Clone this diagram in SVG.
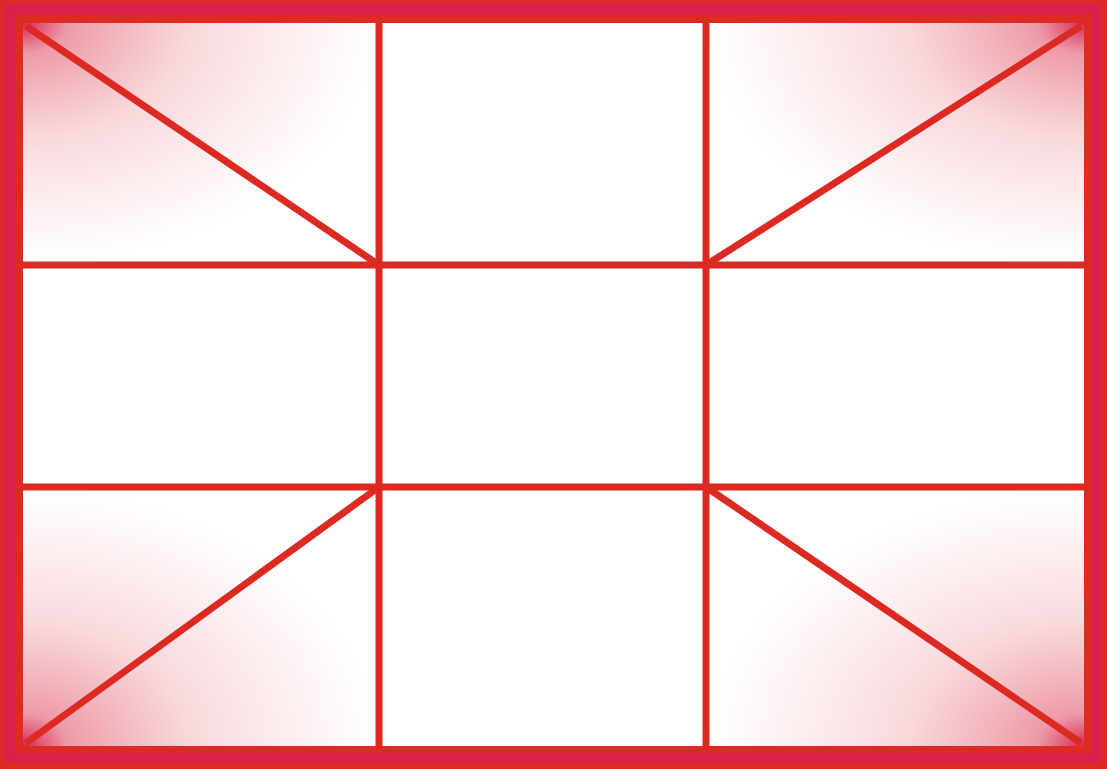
<svg xmlns="http://www.w3.org/2000/svg" width="1107" height="769" viewBox="0 0 1107 769">
<style>
.ln{stroke:#dc2a22;stroke-width:7;stroke-linecap:butt;fill:none}
.s0{stop-color:#d41c4a;stop-opacity:0.95}
.s1{stop-color:#dc3552;stop-opacity:0.5}
.s2{stop-color:#e2505e;stop-opacity:0.22}
.s3{stop-color:#e86a74;stop-opacity:0}
</style>
<defs>
<radialGradient id="gTL" cx="0" cy="0" r="1.05">
<stop offset="0" class="s0"/><stop offset="0.12" class="s1"/><stop offset="0.45" class="s2"/><stop offset="0.95" class="s3"/>
</radialGradient>
<radialGradient id="gTR" cx="1" cy="0" r="1.05">
<stop offset="0" class="s0"/><stop offset="0.12" class="s1"/><stop offset="0.45" class="s2"/><stop offset="0.95" class="s3"/>
</radialGradient>
<radialGradient id="gBL" cx="0" cy="1" r="1.05">
<stop offset="0" class="s0"/><stop offset="0.12" class="s1"/><stop offset="0.45" class="s2"/><stop offset="0.95" class="s3"/>
</radialGradient>
<radialGradient id="gBR" cx="1" cy="1" r="1.05">
<stop offset="0" class="s0"/><stop offset="0.12" class="s1"/><stop offset="0.45" class="s2"/><stop offset="0.95" class="s3"/>
</radialGradient>
</defs>
<g id="frame">
<rect x="0" y="0" width="1107" height="769" fill="#dd2a22"/>
<rect x="4" y="4" width="1097" height="759" fill="#d9214a"/>
<rect x="15" y="15" width="1076" height="738" fill="#dd2a22"/>
<rect x="23" y="23" width="1061" height="723" fill="#ffffff"/>
</g>
<g id="corner-shading">
<rect x="23" y="23" width="356" height="242" fill="url(#gTL)"/>
<rect x="706" y="23" width="378" height="242" fill="url(#gTR)"/>
<rect x="23" y="487" width="356" height="259" fill="url(#gBL)"/>
<rect x="706" y="487" width="378" height="259" fill="url(#gBR)"/>
</g>
<g id="grid">
<line class="ln" x1="379" y1="20" x2="379" y2="749"/>
<line class="ln" x1="706" y1="20" x2="706" y2="749"/>
<line class="ln" x1="20" y1="265" x2="1087" y2="265"/>
<line class="ln" x1="20" y1="487" x2="1087" y2="487"/>
</g>
<g id="diagonals">
<line class="ln" x1="26" y1="26" x2="379" y2="265"/>
<line class="ln" x1="1081" y1="26" x2="706" y2="265"/>
<line class="ln" x1="26" y1="743" x2="379" y2="487"/>
<line class="ln" x1="1081" y1="743" x2="706" y2="487"/>
</g>
</svg>
